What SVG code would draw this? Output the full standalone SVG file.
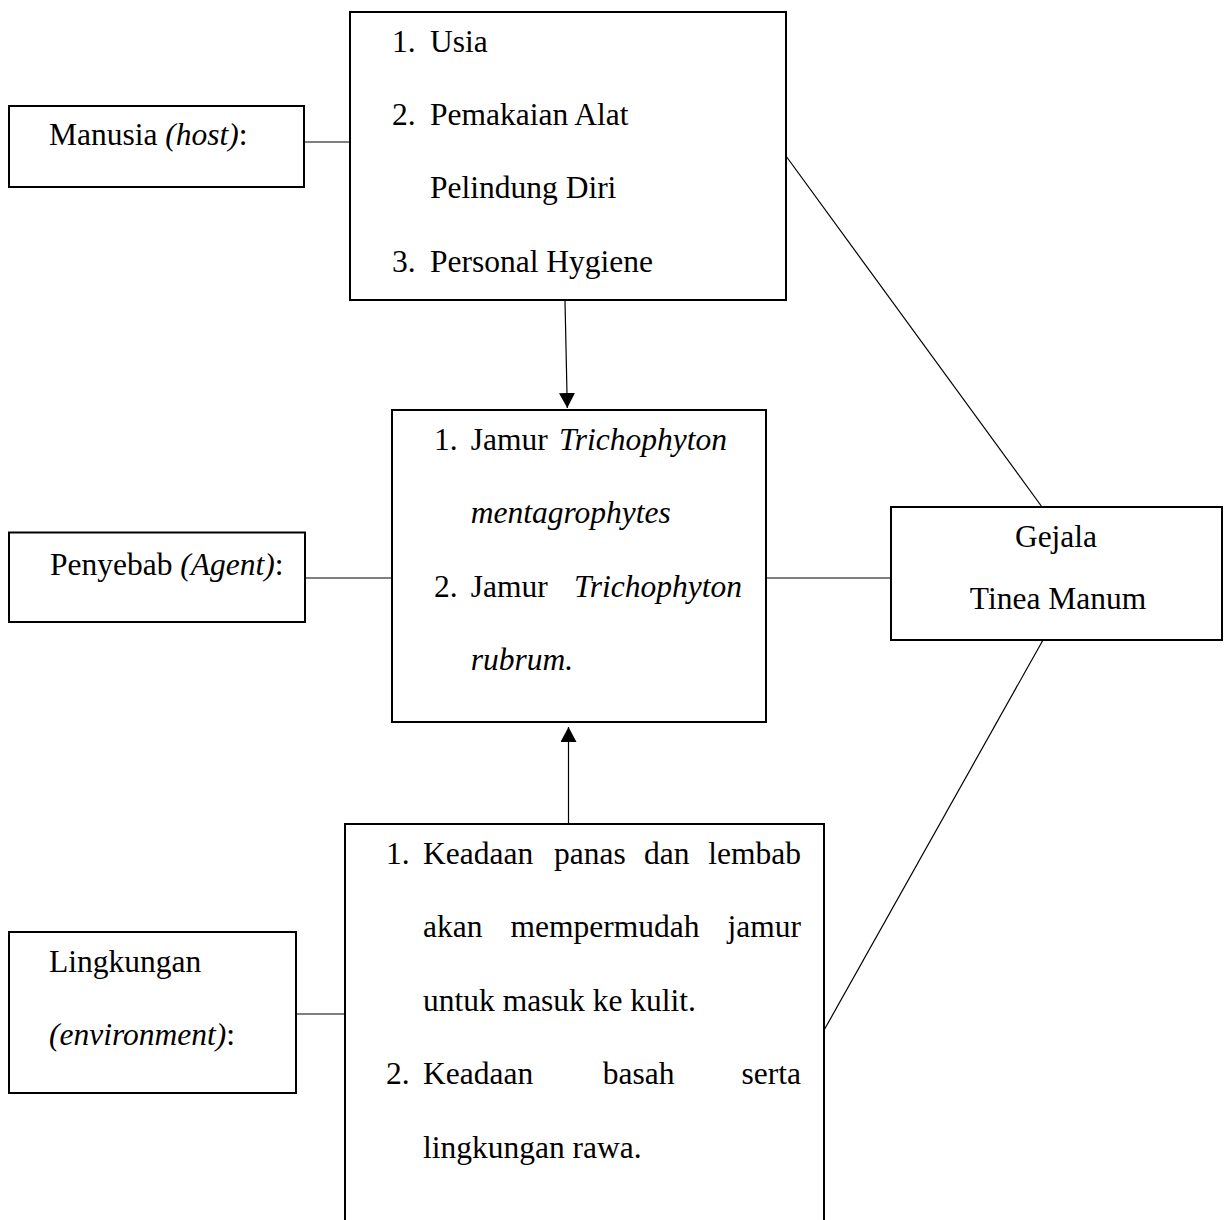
<svg xmlns="http://www.w3.org/2000/svg" width="1230" height="1220" viewBox="0 0 1230 1220">
<style>
.box{fill:#fff;stroke:#000;stroke-width:2}
.ln{fill:none;stroke:#000;stroke-width:1.2}
text{font-family:"Liberation Serif","Times New Roman",serif;font-size:31.5px;fill:#000}
.i{font-style:italic}
</style>
<defs>
<marker id="arr" markerUnits="userSpaceOnUse" markerWidth="16" markerHeight="16" refX="15" refY="8" orient="auto">
<path d="M0,0 L15,8 L0,16 z" fill="#000"/>
</marker>
</defs>
<rect width="1230" height="1220" fill="#fff"/>
<g id="connectors">
<line class="ln" x1="304" y1="142" x2="350" y2="142"/>
<line class="ln" x1="305" y1="578" x2="392" y2="578"/>
<line class="ln" x1="766" y1="578" x2="891" y2="578"/>
<line class="ln" x1="296" y1="1014" x2="345" y2="1014"/>
<line class="ln" x1="786" y1="156" x2="1042" y2="507"/>
<line class="ln" x1="1043" y1="640" x2="823" y2="1032"/>
<line class="ln" x1="565" y1="301" x2="567.3" y2="408" marker-end="url(#arr)"/>
<line class="ln" x1="568.5" y1="824" x2="568.5" y2="727" marker-end="url(#arr)"/>
</g>
<g id="manusia">
<rect class="box" x="9" y="106" width="295" height="81"/>
<text x="49" y="145">Manusia <tspan class="i">(host)</tspan>:</text>
</g>
<g id="host-factors">
<rect class="box" x="350" y="12" width="436" height="288"/>
<text x="392" y="52">1.</text><text x="430" y="52">Usia</text>
<text x="392" y="125">2.</text><text x="430" y="125">Pemakaian Alat</text>
<text x="430" y="198">Pelindung Diri</text>
<text x="392" y="272">3.</text><text x="430" y="272">Personal Hygiene</text>
</g>
<g id="penyebab">
<rect class="box" x="9" y="532.5" width="296" height="89.5"/>
<text x="50" y="575">Penyebab <tspan class="i">(Agent)</tspan>:</text>
</g>
<g id="agent-factors">
<rect class="box" x="392" y="410" width="374" height="312"/>
<text x="434" y="450">1.</text><text x="470.7" y="450">Jamur</text><text class="i" x="559" y="450">Trichophyton</text>
<text class="i" x="470.7" y="523">mentagrophytes</text>
<text x="434" y="597">2.</text><text x="470.7" y="597">Jamur</text><text class="i" x="574" y="597">Trichophyton</text>
<text class="i" x="470.7" y="670">rubrum.</text>
</g>
<g id="gejala">
<rect class="box" x="891" y="507" width="331" height="133"/>
<text x="1056" y="547" text-anchor="middle">Gejala</text>
<text x="1058" y="609" text-anchor="middle">Tinea Manum</text>
</g>
<g id="lingkungan">
<rect class="box" x="9" y="932" width="287" height="161"/>
<text x="49" y="972">Lingkungan</text>
<text x="49" y="1045"><tspan class="i">(environment)</tspan>:</text>
</g>
<g id="environment-factors">
<rect class="box" x="345" y="824" width="479" height="420"/>
<text x="386" y="864">1.</text>
<text x="423" y="864">Keadaan</text><text x="554" y="864">panas</text><text x="644" y="864">dan</text><text x="801" y="864" text-anchor="end">lembab</text>
<text x="423" y="937">akan</text><text x="510.6" y="937">mempermudah</text><text x="801" y="937" text-anchor="end">jamur</text>
<text x="423" y="1011">untuk masuk ke kulit.</text>
<text x="386" y="1084">2.</text>
<text x="423" y="1084">Keadaan</text><text x="602.7" y="1084">basah</text><text x="801" y="1084" text-anchor="end">serta</text>
<text x="423" y="1158">lingkungan rawa.</text>
</g>
</svg>
